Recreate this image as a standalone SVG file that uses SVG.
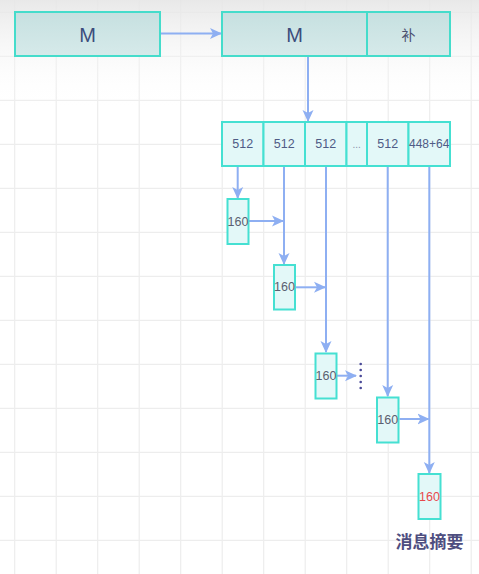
<svg xmlns="http://www.w3.org/2000/svg" width="479" height="574" viewBox="0 0 479 574">
<defs>
<style>
.grid line{stroke:#ededed;stroke-width:1.2}
.big{fill:url(#gTop);stroke:#45dccb;stroke-width:2}
.cell{fill:#e3f8f8;stroke:#45e0d2;stroke-width:2}
.conn line,.conn path{stroke:#8eaff2;stroke-width:2;fill:none}
.t{font-family:"Liberation Sans",Arial,sans-serif;text-anchor:middle;dominant-baseline:central}
.m{font-size:20px;fill:#3c4c7c}
.n{font-size:12.5px;fill:#4f5c86}
.s{font-size:12.5px;fill:#5a6070}
</style>
<linearGradient id="gTop" x1="0" y1="0" x2="0" y2="1">
<stop offset="0" stop-color="#c6e0e0"/>
<stop offset="1" stop-color="#d6eaea"/>
</linearGradient>
<linearGradient id="bg" x1="0" y1="0" x2="0" y2="1">
<stop offset="0" stop-color="#e6e6e6" stop-opacity="0.9"/>
<stop offset="1" stop-color="#ffffff" stop-opacity="0"/>
</linearGradient>
<marker id="ah" viewBox="0 0 12 12" refX="11" refY="6" markerWidth="6" markerHeight="6" orient="auto" markerUnits="strokeWidth">
<path d="M0,0.5 L12,6 L0,11.5 L3,6 Z" fill="#8eaff2"/>
</marker>
</defs>
<rect width="479" height="574" fill="#ffffff"/>
<g class="grid">
<line x1="14.7" y1="0" x2="14.7" y2="574"/><line x1="56.2" y1="0" x2="56.2" y2="574"/><line x1="97.7" y1="0" x2="97.7" y2="574"/><line x1="139.2" y1="0" x2="139.2" y2="574"/><line x1="180.7" y1="0" x2="180.7" y2="574"/><line x1="222.2" y1="0" x2="222.2" y2="574"/><line x1="263.7" y1="0" x2="263.7" y2="574"/><line x1="305.2" y1="0" x2="305.2" y2="574"/><line x1="346.7" y1="0" x2="346.7" y2="574"/><line x1="388.2" y1="0" x2="388.2" y2="574"/><line x1="429.7" y1="0" x2="429.7" y2="574"/><line x1="471.2" y1="0" x2="471.2" y2="574"/>
<line x1="0" y1="12.3" x2="479" y2="12.3"/><line x1="0" y1="56.3" x2="479" y2="56.3"/><line x1="0" y1="100.3" x2="479" y2="100.3"/><line x1="0" y1="144.3" x2="479" y2="144.3"/><line x1="0" y1="188.3" x2="479" y2="188.3"/><line x1="0" y1="232.3" x2="479" y2="232.3"/><line x1="0" y1="276.3" x2="479" y2="276.3"/><line x1="0" y1="320.3" x2="479" y2="320.3"/><line x1="0" y1="364.3" x2="479" y2="364.3"/><line x1="0" y1="408.3" x2="479" y2="408.3"/><line x1="0" y1="452.3" x2="479" y2="452.3"/><line x1="0" y1="496.3" x2="479" y2="496.3"/><line x1="0" y1="540.3" x2="479" y2="540.3"/>
</g>
<rect width="479" height="110" fill="url(#bg)"/>
<g id="connectors" class="conn">
<line x1="161" y1="33.5" x2="221" y2="33.5" marker-end="url(#ah)"/>
<line x1="308" y1="57" x2="308" y2="121" marker-end="url(#ah)"/>
<line x1="237.7" y1="167" x2="237.7" y2="198" marker-end="url(#ah)"/>
<line x1="249" y1="221" x2="283" y2="221" marker-end="url(#ah)"/>
<line x1="284" y1="167" x2="284" y2="264" marker-end="url(#ah)"/>
<line x1="295.5" y1="287.3" x2="325" y2="287.3" marker-end="url(#ah)"/>
<line x1="326" y1="167" x2="326" y2="352" marker-end="url(#ah)"/>
<line x1="337" y1="375.7" x2="356" y2="375.7" marker-end="url(#ah)"/>
<line x1="387.7" y1="167" x2="387.7" y2="396" marker-end="url(#ah)"/>
<line x1="399.5" y1="419" x2="428.5" y2="419" marker-end="url(#ah)"/>
<line x1="429.3" y1="167" x2="429.3" y2="473" marker-end="url(#ah)"/>
</g>
<g id="m1"><rect class="big" x="15" y="12" width="145" height="44"/><text class="t m" x="87.5" y="34.5">M</text></g>
<g id="m2"><rect class="big" x="222" y="12" width="145" height="44"/><text class="t m" x="294.5" y="34.5">M</text></g>
<g id="pad"><rect class="big" x="367" y="12" width="83" height="44"/><text class="t" x="408.5" y="34" style="font-family:'Noto Sans CJK SC',sans-serif;font-size:14px;fill:#4a5070">补</text></g>
<g id="b1"><rect class="cell" x="222" y="122" width="41.5" height="44"/><text class="t n" x="242.7" y="144">512</text></g>
<g id="b2"><rect class="cell" x="263.5" y="122" width="41.5" height="44"/><text class="t n" x="284.2" y="144">512</text></g>
<g id="b3"><rect class="cell" x="305" y="122" width="41.5" height="44"/><text class="t n" x="325.7" y="144">512</text></g>
<g id="b4"><rect class="cell" x="346.5" y="122" width="20.5" height="44"/><text class="t" x="356.7" y="144" style="font-family:'Liberation Sans',sans-serif;font-size:10px;fill:#8a90a8">...</text></g>
<g id="b5"><rect class="cell" x="367" y="122" width="41.5" height="44"/><text class="t n" x="387.7" y="144">512</text></g>
<g id="b6"><rect class="cell" x="408.5" y="122" width="41.5" height="44"/><text class="t n" x="429.2" y="144" style="font-size:12px">448+64</text></g>
<g id="h1"><rect class="cell" x="227.5" y="199" width="21" height="45"/><text class="t s" x="238" y="221.5">160</text></g>
<g id="h2"><rect class="cell" x="274" y="265" width="21" height="44.5"/><text class="t s" x="284.5" y="287.3">160</text></g>
<g id="h3"><rect class="cell" x="315.5" y="353.5" width="21" height="45"/><text class="t s" x="326" y="376">160</text></g>
<g id="dots" fill="#4a4a98"><circle cx="360.7" cy="364" r="1.3"/><circle cx="360.7" cy="370" r="1.3"/><circle cx="360.7" cy="376" r="1.3"/><circle cx="360.7" cy="382" r="1.3"/><circle cx="360.7" cy="388" r="1.3"/></g>
<g id="h4"><rect class="cell" x="377" y="397.5" width="21.5" height="45"/><text class="t s" x="387.7" y="420">160</text></g>
<g id="h5"><rect class="cell" x="418.5" y="474" width="22" height="45"/><text class="t" x="429.5" y="497" style="font-family:'Liberation Sans',sans-serif;font-size:12.5px;fill:#e8484c">160</text></g>
<text x="429.5" y="548" text-anchor="middle" style="font-family:'Noto Sans CJK SC',sans-serif;font-size:17px;font-weight:bold;fill:#4e4e80">消息摘要</text>
</svg>
